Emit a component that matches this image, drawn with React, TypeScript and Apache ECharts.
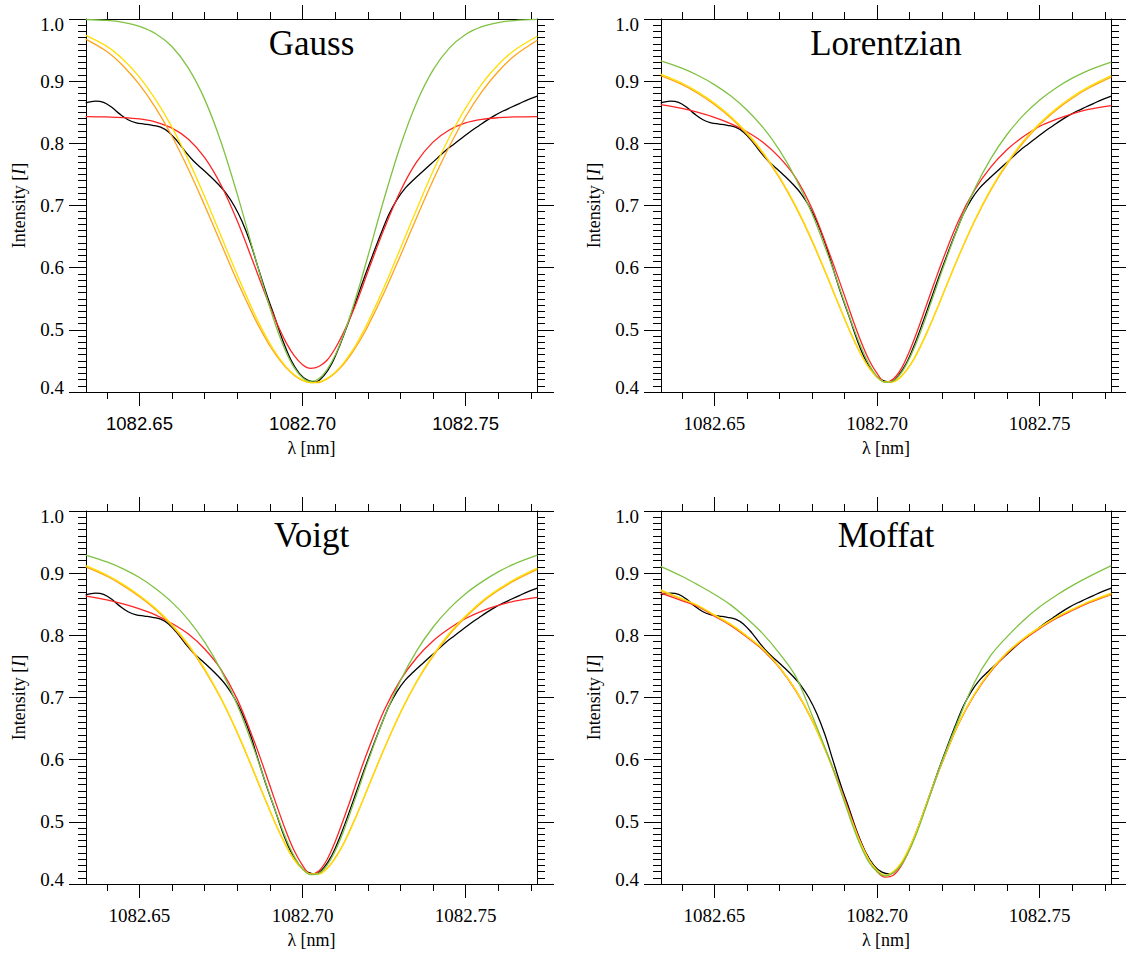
import React, { useEffect, useRef } from "react";
import * as echarts from "echarts";

// Wavelength / intensity window shared by the four panels
const LAMBDA_MIN = 1082.6336;
const LAMBDA_MAX = 1082.7719;
const INTENSITY_MIN = 0.4;
const INTENSITY_MAX = 1.0;

const wavelengthTicks = [1082.65, 1082.7, 1082.75];
const wavelengthTickLabels = ["1082.65", "1082.70", "1082.75"];
const wavelengthMinorTicks = [
  1082.64, 1082.66, 1082.67, 1082.68, 1082.69, 1082.71, 1082.72, 1082.73, 1082.74, 1082.76, 1082.77,
];
const intensityTicks = [0.4, 0.5, 0.6, 0.7, 0.8, 0.9, 1.0];
const intensityTickLabels = ["0.4", "0.5", "0.6", "0.7", "0.8", "0.9", "1.0"];
const intensityMinorTicks: number[] = [];
for (let k = 41; k < 100; k++) if (k % 10 !== 0) intensityMinorTicks.push(k / 100);

// Observed He I 1083 nm profile
const observedWavelength = [
  1082.6335, 1082.6365, 1082.639, 1082.6415, 1082.644, 1082.6465, 1082.649, 1082.6515, 1082.654, 1082.6565,
  1082.659, 1082.6615, 1082.664, 1082.6665, 1082.669, 1082.6715, 1082.674, 1082.6765, 1082.679, 1082.6815,
  1082.684, 1082.6865, 1082.689, 1082.6915, 1082.694, 1082.6965, 1082.699, 1082.7015, 1082.704, 1082.7065,
  1082.709, 1082.7115, 1082.714, 1082.7165, 1082.719, 1082.7215, 1082.724, 1082.7265, 1082.729, 1082.7315,
  1082.734, 1082.7365, 1082.739, 1082.7415, 1082.744, 1082.7465, 1082.749, 1082.7515, 1082.754, 1082.7565,
  1082.759, 1082.7615, 1082.764, 1082.7665, 1082.769, 1082.772,
];
const observedIntensity = [
  0.865, 0.868, 0.866, 0.858, 0.847, 0.838, 0.833, 0.831, 0.829, 0.826,
  0.818, 0.804, 0.787, 0.772, 0.76, 0.748, 0.735, 0.72, 0.7, 0.674,
  0.64, 0.598, 0.557, 0.52, 0.482, 0.451, 0.43, 0.419, 0.416, 0.426,
  0.446, 0.476, 0.511, 0.548, 0.585, 0.62, 0.654, 0.686, 0.71, 0.728,
  0.741, 0.753, 0.765, 0.777, 0.789, 0.799, 0.809, 0.819, 0.828, 0.837,
  0.845, 0.852, 0.858, 0.864, 0.87, 0.876,
];

// Sampling of the fitted profiles
const fitWavelength = [
  1082.6335, 1082.64, 1082.645, 1082.65, 1082.655, 1082.66, 1082.665, 1082.67, 1082.675, 1082.68,
  1082.685, 1082.6875, 1082.69, 1082.6925, 1082.695, 1082.6975, 1082.7, 1082.7025, 1082.705, 1082.7075,
  1082.71, 1082.7125, 1082.715, 1082.7175, 1082.72, 1082.725, 1082.73, 1082.735, 1082.74, 1082.745,
  1082.75, 1082.755, 1082.76, 1082.765, 1082.772,
];

// Gauss fits
const gaussRed = [
  0.843, 0.8424, 0.8415, 0.8392, 0.8343, 0.8244, 0.8066, 0.777, 0.733, 0.675,
  0.607, 0.572, 0.538, 0.506, 0.479, 0.458, 0.444, 0.438, 0.441, 0.451,
  0.47, 0.495, 0.524, 0.557, 0.593, 0.662, 0.723, 0.77, 0.802, 0.8215,
  0.8328, 0.8385, 0.8412, 0.8424, 0.843,
];
const gaussOrange = [
  0.9676, 0.9476, 0.9245, 0.8943, 0.8565, 0.811, 0.7583, 0.7, 0.639, 0.578,
  0.522, 0.497, 0.474, 0.4548, 0.4388, 0.4267, 0.4188, 0.415, 0.4152, 0.4211,
  0.4306, 0.4441, 0.4613, 0.482, 0.5055, 0.5595, 0.6193, 0.6807, 0.7401, 0.7948,
  0.8428, 0.883, 0.9156, 0.941, 0.9659,
];
const gaussYellow = [
  0.9736, 0.9559, 0.9347, 0.9064, 0.87, 0.8257, 0.773, 0.714, 0.651, 0.588,
  0.5286, 0.502, 0.478, 0.4574, 0.4404, 0.4276, 0.419, 0.415, 0.4161, 0.4216,
  0.4317, 0.446, 0.4644, 0.4865, 0.5115, 0.5683, 0.6308, 0.694, 0.755, 0.8095,
  0.8567, 0.8958, 0.9265, 0.9498, 0.9722,
];
const gaussGreen = [
  0.9992, 0.9977, 0.9946, 0.9883, 0.9763, 0.9553, 0.9211, 0.8707, 0.8022, 0.7178,
  0.625, 0.579, 0.5355, 0.4965, 0.4637, 0.4388, 0.4229, 0.417, 0.4214, 0.4357,
  0.4591, 0.4907, 0.529, 0.5717, 0.6175, 0.7105, 0.7958, 0.8658, 0.9178, 0.9531,
  0.975, 0.9876, 0.9943, 0.9975, 0.9993,
];

// Lorentzian fits
const lorentzRed = [
  0.8622, 0.8561, 0.8498, 0.8419, 0.8318, 0.8187, 0.8014, 0.7775, 0.7445, 0.695,
  0.628, 0.592, 0.555, 0.517, 0.482, 0.452, 0.43, 0.4155, 0.421, 0.438,
  0.466, 0.5, 0.537, 0.574, 0.61, 0.675, 0.725, 0.762, 0.79, 0.811,
  0.8275, 0.8385, 0.8475, 0.8545, 0.8605,
];
const lorentzOrange = [
  0.909, 0.8948, 0.8802, 0.8624, 0.841, 0.8148, 0.783, 0.7442, 0.6975, 0.643,
  0.5812, 0.5494, 0.5178, 0.4879, 0.4612, 0.4393, 0.424, 0.4161, 0.4166, 0.4255,
  0.4419, 0.4646, 0.492, 0.5223, 0.554, 0.6172, 0.6752, 0.7252, 0.7671, 0.8017,
  0.8301, 0.8534, 0.8726, 0.8886, 0.9064,
];
const lorentzYellow = [
  0.9114, 0.897, 0.8824, 0.8647, 0.8433, 0.8171, 0.7852, 0.7463, 0.6994, 0.6444,
  0.5822, 0.55, 0.5181, 0.488, 0.4611, 0.4391, 0.4237, 0.4158, 0.4163, 0.4251,
  0.4415, 0.4641, 0.4915, 0.5219, 0.5538, 0.6176, 0.6762, 0.7267, 0.769, 0.8039,
  0.8324, 0.8558, 0.875, 0.8909, 0.9088,
];
const lorentzGreen = [
  0.9326, 0.9211, 0.9091, 0.8945, 0.8764, 0.8537, 0.8252, 0.7891, 0.7435, 0.687,
  0.619, 0.5818, 0.544, 0.507, 0.473, 0.445, 0.425, 0.4156, 0.4177, 0.431,
  0.4542, 0.4848, 0.5201, 0.5577, 0.5954, 0.6664, 0.7267, 0.7757, 0.8146, 0.8453,
  0.8697, 0.8891, 0.9048, 0.9175, 0.9306,
];

// Voigt fits
const voigtRed = [
  0.863, 0.857, 0.8505, 0.8425, 0.8325, 0.819, 0.802, 0.778, 0.745, 0.697,
  0.632, 0.596, 0.558, 0.52, 0.484, 0.453, 0.43, 0.416, 0.421, 0.439,
  0.468, 0.503, 0.54, 0.578, 0.614, 0.679, 0.728, 0.764, 0.791, 0.811,
  0.827, 0.839, 0.848, 0.855, 0.861,
];
const voigtOrange = [
  0.91, 0.895, 0.88, 0.862, 0.841, 0.815, 0.783, 0.744, 0.698, 0.643,
  0.581, 0.549, 0.518, 0.488, 0.461, 0.439, 0.424, 0.416, 0.417, 0.425,
  0.442, 0.464, 0.492, 0.522, 0.554, 0.617, 0.675, 0.725, 0.766, 0.801,
  0.829, 0.853, 0.872, 0.888, 0.906,
];
const voigtYellow = [
  0.912, 0.897, 0.882, 0.864, 0.843, 0.817, 0.785, 0.746, 0.699, 0.644,
  0.582, 0.55, 0.518, 0.488, 0.461, 0.439, 0.424, 0.416, 0.416, 0.425,
  0.441, 0.464, 0.491, 0.522, 0.554, 0.617, 0.676, 0.726, 0.768, 0.803,
  0.831, 0.855, 0.874, 0.89, 0.908,
];
const voigtGreen = [
  0.929, 0.918, 0.907, 0.893, 0.875, 0.853, 0.825, 0.789, 0.744, 0.688,
  0.619, 0.581, 0.543, 0.506, 0.472, 0.444, 0.424, 0.415, 0.417, 0.43,
  0.453, 0.484, 0.52, 0.558, 0.596, 0.667, 0.727, 0.775, 0.813, 0.843,
  0.867, 0.886, 0.902, 0.915, 0.929,
];

// Moffat fits
const moffatRed = [
  0.868, 0.856, 0.846, 0.831, 0.816, 0.797, 0.776, 0.748, 0.711, 0.664,
  0.605, 0.572, 0.537, 0.501, 0.467, 0.439, 0.42, 0.411, 0.414, 0.43,
  0.456, 0.489, 0.525, 0.561, 0.595, 0.657, 0.705, 0.742, 0.771, 0.793,
  0.811, 0.827, 0.84, 0.852, 0.866,
];
const moffatOrange = [
  0.871, 0.858, 0.847, 0.832, 0.817, 0.798, 0.777, 0.749, 0.712, 0.664,
  0.604, 0.57, 0.534, 0.498, 0.465, 0.439, 0.421, 0.413, 0.419, 0.434,
  0.459, 0.49, 0.526, 0.562, 0.596, 0.658, 0.706, 0.743, 0.772, 0.794,
  0.812, 0.828, 0.841, 0.853, 0.866,
];
const moffatYellow = [
  0.873, 0.859, 0.848, 0.833, 0.818, 0.799, 0.778, 0.749, 0.712, 0.664,
  0.604, 0.57, 0.534, 0.498, 0.465, 0.439, 0.422, 0.414, 0.42, 0.435,
  0.459, 0.49, 0.526, 0.562, 0.596, 0.658, 0.706, 0.744, 0.773, 0.795,
  0.813, 0.829, 0.842, 0.854, 0.868,
];
const moffatGreen = [
  0.911, 0.895, 0.881, 0.866, 0.849, 0.827, 0.802, 0.771, 0.734, 0.672,
  0.606, 0.57, 0.532, 0.494, 0.461, 0.435, 0.42, 0.413, 0.418, 0.431,
  0.455, 0.486, 0.523, 0.561, 0.598, 0.664, 0.725, 0.768, 0.798, 0.824,
  0.846, 0.864, 0.88, 0.894, 0.912,
];

const COLORS = {
  observed: "#000000",
  red: "#ff2424",
  orange: "#ffa31a",
  yellow: "#ffdf00",
  green: "#7fc242",
};

const SERIF = "'Liberation Serif', 'Times New Roman', Times, serif";
const SANS = "'Liberation Sans', Arial, Helvetica, sans-serif";

type Panel = {
  title: string;
  left: number;
  top: number;
  width: number;
  height: number;
  tickFont: string;
  tickSize: number;
  red: number[];
  orange: number[];
  yellow: number[];
  green: number[];
};

const panels: Panel[] = [
  { title: "Gauss", left: 86, top: 19, width: 451, height: 373, tickFont: SANS, tickSize: 18.5,
    red: gaussRed, orange: gaussOrange, yellow: gaussYellow, green: gaussGreen },
  { title: "Lorentzian", left: 661, top: 19, width: 450, height: 373, tickFont: SERIF, tickSize: 19,
    red: lorentzRed, orange: lorentzOrange, yellow: lorentzYellow, green: lorentzGreen },
  { title: "Voigt", left: 86, top: 511, width: 451, height: 373, tickFont: SERIF, tickSize: 19,
    red: voigtRed, orange: voigtOrange, yellow: voigtYellow, green: voigtGreen },
  { title: "Moffat", left: 661, top: 511, width: 450, height: 373, tickFont: SERIF, tickSize: 19,
    red: moffatRed, orange: moffatOrange, yellow: moffatYellow, green: moffatGreen },
];

const lineStyle = { color: "#000", width: 1 };

function labelFor(values: number[], labels: string[], v: number): string {
  const idx = values.findIndex((t) => Math.abs(t - v) < 1e-6);
  return idx >= 0 ? labels[idx] : "";
}

function buildOption() {
  const grid: any[] = [];
  const xAxis: any[] = [];
  const yAxis: any[] = [];
  const series: any[] = [];
  const graphic: any[] = [];

  panels.forEach((p, i) => {
    grid.push({ left: p.left, top: p.top, width: p.width, height: p.height, show: false });

    const xBase = {
      type: "value",
      gridIndex: i,
      min: LAMBDA_MIN,
      max: LAMBDA_MAX,
      splitLine: { show: false },
    };
    const tickLine = { show: true, onZero: false, lineStyle };
    // bottom: main ticks with labels, then minor ticks
    xAxis.push({
      ...xBase,
      position: "bottom",
      axisLine: tickLine,
      axisTick: { show: true, inside: false, length: 14, customValues: wavelengthTicks, lineStyle },
      axisLabel: {
        show: true,
        customValues: wavelengthTicks,
        formatter: (v: number) => labelFor(wavelengthTicks, wavelengthTickLabels, v),
        margin: 22,
        fontFamily: p.tickFont,
        fontSize: p.tickSize,
        color: "#000",
      },
    });
    xAxis.push({
      ...xBase,
      position: "bottom",
      axisLine: { show: false, onZero: false },
      axisTick: { show: true, inside: false, length: 7, customValues: wavelengthMinorTicks, lineStyle },
      axisLabel: { show: false },
    });
    // top mirror axis
    xAxis.push({
      ...xBase,
      position: "top",
      axisLine: tickLine,
      axisTick: { show: true, inside: false, length: 14, customValues: wavelengthTicks, lineStyle },
      axisLabel: { show: false },
    });
    xAxis.push({
      ...xBase,
      position: "top",
      axisLine: { show: false, onZero: false },
      axisTick: { show: true, inside: false, length: 7, customValues: wavelengthMinorTicks, lineStyle },
      axisLabel: { show: false },
    });

    const yBase = {
      type: "value",
      gridIndex: i,
      min: INTENSITY_MIN,
      max: INTENSITY_MAX,
      splitLine: { show: false },
    };
    yAxis.push({
      ...yBase,
      position: "left",
      axisLine: tickLine,
      axisTick: { show: true, inside: false, length: 17, customValues: intensityTicks, lineStyle },
      axisLabel: {
        show: true,
        customValues: intensityTicks,
        formatter: (v: number) => {
          const s = labelFor(intensityTicks, intensityTickLabels, v);
          if (Math.abs(v - INTENSITY_MAX) < 1e-6) return `{hi|${s}}`;
          if (Math.abs(v - INTENSITY_MIN) < 1e-6) return `{lo|${s}}`;
          return `{n|${s}}`;
        },
        margin: 22,
        fontFamily: SERIF,
        fontSize: 19,
        color: "#000",
        rich: {
          n: { fontFamily: SERIF, fontSize: 19, color: "#000" },
          hi: { fontFamily: SERIF, fontSize: 19, color: "#000", padding: [10, 0, 0, 0] },
          lo: { fontFamily: SERIF, fontSize: 19, color: "#000", padding: [0, 0, 10, 0] },
        },
      },
      name: "{t|Intensity [}{i|I}{t|]}",
      nameLocation: "middle",
      nameRotate: 90,
      nameGap: 58,
      nameTextStyle: {
        fontFamily: SERIF,
        fontSize: 18,
        color: "#000",
        rich: {
          t: { fontFamily: SERIF, fontSize: 18, color: "#000" },
          i: { fontFamily: SERIF, fontSize: 18, fontStyle: "italic", color: "#000" },
        },
      },
    });
    yAxis.push({
      ...yBase,
      position: "left",
      axisLine: { show: false, onZero: false },
      axisTick: { show: true, inside: false, length: 8, customValues: intensityMinorTicks, lineStyle },
      axisLabel: { show: false },
    });
    yAxis.push({
      ...yBase,
      position: "right",
      axisLine: tickLine,
      axisTick: { show: true, inside: false, length: 17, customValues: intensityTicks, lineStyle },
      axisLabel: { show: false },
    });
    yAxis.push({
      ...yBase,
      position: "right",
      axisLine: { show: false, onZero: false },
      axisTick: { show: true, inside: false, length: 8, customValues: intensityMinorTicks, lineStyle },
      axisLabel: { show: false },
    });

    const line = (name: string, xs: number[], ys: number[], color: string, z: number) => ({
      type: "line",
      name,
      xAxisIndex: i * 4,
      yAxisIndex: i * 4,
      data: xs.map((x, k) => [x, ys[k]]),
      showSymbol: false,
      symbol: "none",
      smooth: 0.35,
      clip: true,
      silent: true,
      z,
      lineStyle: { color, width: 1.3 },
      itemStyle: { color },
    });
    series.push(line(`${p.title} observed`, observedWavelength, observedIntensity, COLORS.observed, 2));
    series.push(line(`${p.title} red`, fitWavelength, p.red, COLORS.red, 3));
    series.push(line(`${p.title} orange`, fitWavelength, p.orange, COLORS.orange, 4));
    series.push(line(`${p.title} yellow`, fitWavelength, p.yellow, COLORS.yellow, 5));
    series.push(line(`${p.title} green`, fitWavelength, p.green, COLORS.green, 6));

    const cx = p.left + p.width / 2;
    graphic.push({
      type: "text",
      x: cx,
      y: p.top + 24.5,
      silent: true,
      style: {
        text: p.title,
        fill: "#000",
        fontFamily: SERIF,
        fontSize: 35,
        align: "center",
        verticalAlign: "middle",
      },
    });
    graphic.push({
      type: "text",
      x: cx,
      y: p.top + p.height + 55.5,
      silent: true,
      style: {
        text: "λ [nm]",
        fill: "#000",
        fontFamily: SERIF,
        fontSize: 18,
        align: "center",
        verticalAlign: "middle",
      },
    });
  });

  return {
    animation: false,
    backgroundColor: "#ffffff",
    textStyle: { fontFamily: SERIF },
    grid,
    xAxis,
    yAxis,
    series,
    graphic,
  };
}

export default function App() {
  const ref = useRef<HTMLDivElement>(null);
  useEffect(() => {
    if (!ref.current) return;
    const chart = echarts.init(ref.current, null, { renderer: "svg" });
    chart.setOption(buildOption() as any);
    return () => chart.dispose();
  }, []);
  return (
    <div
      ref={ref}
      style={{ position: "absolute", left: 0, top: 0, width: 1126, height: 953, background: "#ffffff" }}
    />
  );
}
